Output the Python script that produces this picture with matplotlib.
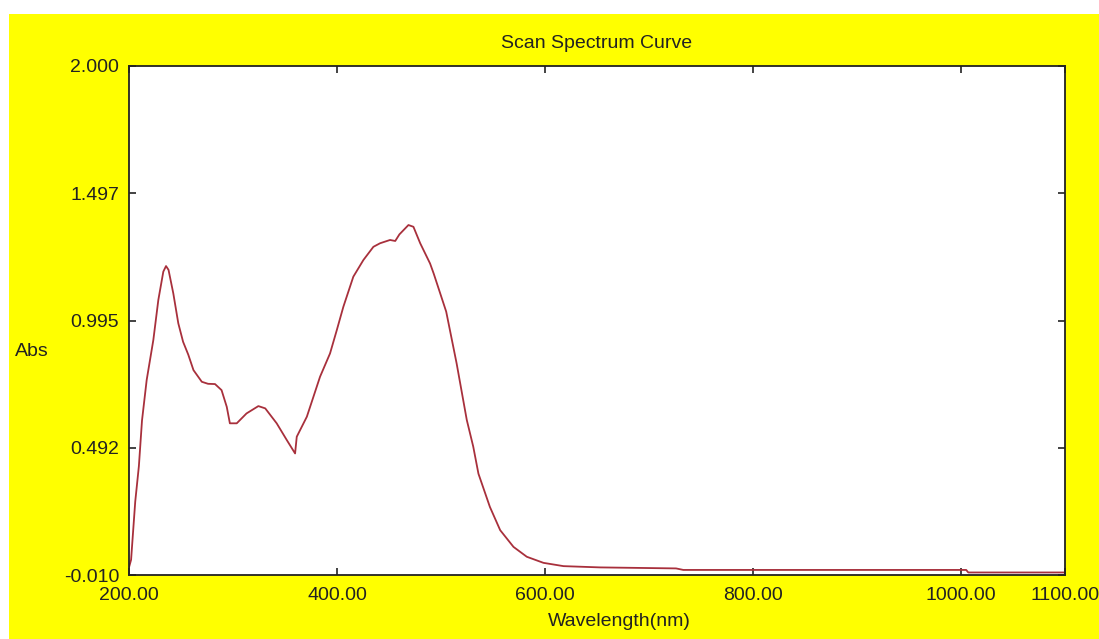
import matplotlib
matplotlib.use("Agg")
import matplotlib.pyplot as plt
from matplotlib.patches import Rectangle

plt.rcParams['font.family'] = ['Liberation Sans', 'DejaVu Sans']

# scan data (nm, Abs)
wavelength = [200, 202, 206, 209.5, 212.5, 217, 223.4, 228.2, 233, 235.6, 238,
              242.6, 247.4, 252, 257, 262, 270, 276, 282.7, 289, 294, 297,
              303.6, 313, 324.4, 331, 342, 351.7, 359.7, 361.3, 371, 383.7,
              393.3, 399.8, 406.1, 415.7, 425.4, 435, 441.4, 451, 456, 460,
              468.7, 473.5, 480, 489.5, 493, 505, 515, 524.8, 531, 536, 547,
              556.9, 569.7, 582.5, 598.5, 617.8, 653, 726, 733, 1005, 1007, 1100]
absorb = [0.02, 0.05, 0.28, 0.42, 0.60, 0.76, 0.918, 1.076, 1.188, 1.210, 1.195,
          1.102, 0.984, 0.911, 0.86, 0.799, 0.753, 0.745, 0.744, 0.720, 0.654, 0.589,
          0.589, 0.628, 0.657, 0.648, 0.589, 0.523, 0.470, 0.536, 0.615, 0.773,
          0.865, 0.957, 1.049, 1.168, 1.234, 1.286, 1.300, 1.313, 1.309, 1.335,
          1.372, 1.365, 1.30, 1.22, 1.18, 1.03, 0.826, 0.602, 0.497, 0.39, 0.259,
          0.167, 0.101, 0.062, 0.038, 0.025, 0.020, 0.016, 0.010, 0.010, 0.0, 0.0]

x_ticks = [200, 400, 600, 800, 1000, 1100]
y_ticks = [-0.010, 0.492, 0.995, 1.497, 2.000]

W, H = 1099, 639
fig = plt.figure(figsize=(W / 100, H / 100), dpi=100)
fig.patch.set_facecolor('white')
# yellow panel (white strip on top and left)
fig.patches.append(Rectangle((9 / W, 0), 1 - 9 / W, 1 - 14 / H,
                             transform=fig.transFigure, facecolor='#ffff00',
                             edgecolor='none', zorder=-10))

ax = fig.add_axes([129 / W, 1 - 575 / H, (1065 - 129) / W, (575 - 66) / H])
ax.set_zorder(5)
ax.set_facecolor('white')
ax.plot(wavelength, absorb, color='#a8303c', lw=1.3)

ax.set_xlim(200, 1100)
ax.set_ylim(-0.010, 2.000)
ax.set_xticks(x_ticks)
ax.set_xticklabels([f'{v:.2f}' for v in x_ticks])
ax.set_yticks(y_ticks)
ax.set_yticklabels([f'{v:.3f}' for v in y_ticks])
ax.tick_params(direction='in', length=5, width=1.2, top=True, right=True,
               labelsize=14, colors='#222222')
ax.tick_params(axis='x', pad=9)
ax.tick_params(axis='y', pad=7)
for s in ax.spines.values():
    s.set_color('#222222')
    s.set_linewidth(1.3)

fig.text(597 / W, 1 - 43 / H, 'Scan Spectrum Curve', ha='center', va='center',
         fontsize=14, color='#222222')
fig.text(619 / W, 1 - 621 / H, 'Wavelength(nm)', ha='center', va='center',
         fontsize=14, color='#222222')
fig.text(15 / W, 1 - 352 / H, 'Abs', ha='left', va='center',
         fontsize=14, color='#222222')

fig.savefig('out.png', dpi=100)
